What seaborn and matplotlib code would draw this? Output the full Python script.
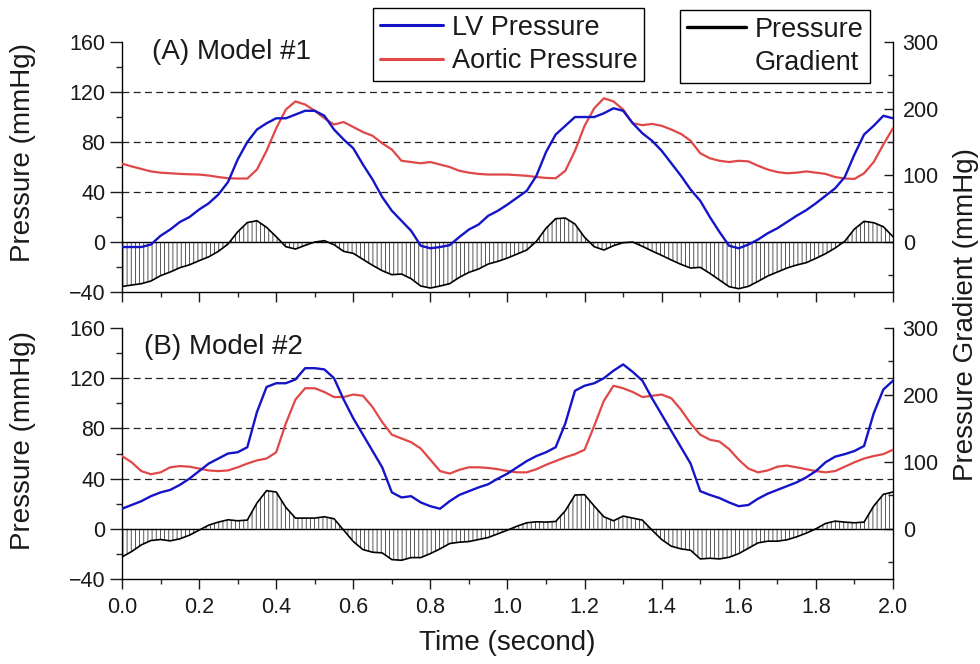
import numpy as np
import matplotlib
matplotlib.use("Agg")
import matplotlib.pyplot as plt
from matplotlib.lines import Line2D
from matplotlib.ticker import MultipleLocator
import seaborn as sns

# ---------------------------------------------------------------- data
# sample times (s), 0.025 s apart
time_s = np.linspace(0.0, 2.0, 81)

# Model #1 (mmHg)
lv_model1 = [
    -4, -4, -4, -2, 5, 10, 16, 20,
    26, 31, 38, 48, 66, 80, 90, 95,
    99, 99, 102, 105, 105, 101, 90, 82,
    75, 62, 50, 36, 25, 17, 9, -3,
    -5, -4, -2.5, 4, 10, 14, 21, 25,
    30, 35.5, 41, 53, 72, 86, 93, 100,
    100, 100, 103, 107, 105, 95, 87, 81,
    73, 63, 53, 42, 33, 20, 8, -3,
    -5, -2, 2, 7, 11, 16, 21, 25.5,
    31, 37, 43, 52, 70, 86, 93, 101,
    99,
]
aortic_model1 = [
    62.7, 60.5, 58.5, 56.5, 55.5, 55, 54.5, 54.2,
    54, 53.2, 52, 51, 50.8, 50.8, 58, 73,
    91, 106, 112.5, 110, 105, 99, 94, 96,
    92, 88, 85, 79, 74, 65, 64, 63,
    64, 62, 60, 57, 55.5, 54.5, 54, 54,
    54, 53.5, 53, 52, 51.3, 51, 57, 73,
    93, 107, 115, 112.5, 106, 95, 93.5, 94.5,
    93, 90, 86.5, 81, 71, 67, 65, 64,
    65, 64.5, 61, 58, 56, 55, 55.5, 56.5,
    55.5, 54.5, 52, 50.8, 50.5, 55, 64, 78,
    91,
]

# Model #2 (mmHg)
lv_model2 = [
    16, 19, 22, 26, 29, 31, 35, 40,
    46, 52, 56, 60, 61, 65, 93, 113,
    116, 116, 119, 128, 128, 127, 120, 103,
    88, 75, 62, 49, 29, 25, 26, 21,
    18, 16, 22, 27, 30, 33, 35.5, 40,
    44, 49, 54, 58, 61, 65, 84, 110,
    114, 116, 120, 126, 131, 125, 118, 104,
    91, 78, 65, 52, 30, 27, 24.5, 21,
    18, 19, 24, 28, 31, 34, 37, 41,
    46, 53, 57.5, 59.5, 62, 66, 92, 111,
    118,
]
aortic_model2 = [
    58, 53, 46, 43.5, 45, 49, 50, 49.5,
    48, 46.5, 46, 46.5, 49, 52, 54.5, 56,
    61, 84, 103, 112, 112, 109, 105, 105,
    107, 106, 97, 85, 75, 72, 69, 64,
    55, 46, 44, 47, 49, 49, 48.5, 47.5,
    46, 45, 45, 47.5, 51, 54, 57, 59.5,
    63, 82, 102, 114, 112, 109, 105, 106,
    107, 104, 95, 84, 75, 71, 69.5, 63.5,
    55, 48, 45, 46.5, 49.5, 50.4, 49, 47.5,
    46, 45, 46, 49.5, 53, 56, 58, 59.5,
    63,
]

panel_titles = ["(A) Model #1", "(B) Model #2"]
pressure_labels = ["LV Pressure", "Aortic Pressure"]
gradient_label_lines = ["Pressure", "Gradient"]
pressure_ticks = [-40, 0, 40, 80, 120, 160]
gradient_ticks = [0, 100, 200, 300]
time_ticks = [0.0, 0.2, 0.4, 0.6, 0.8, 1.0, 1.2, 1.4, 1.6, 1.8, 2.0]

# ---------------------------------------------------------------- style
sns.set_theme(style="ticks")
plt.rcParams["font.family"] = ["Liberation Sans", "DejaVu Sans"]
plt.rcParams["hatch.linewidth"] = 0.6
plt.rcParams["hatch.color"] = "#3a3a3a"

BLUE = "#1414c8"
RED = "#e04848"
INK = "#1a1a1a"
TICK_FS = 15.5
LABEL_FS = 20

fig = plt.figure(figsize=(9.8, 6.64), dpi=100)
fig.patch.set_facecolor("white")
ax_a = fig.add_axes([0.1245, 0.5602, 0.7867, 0.3765])
ax_b = fig.add_axes([0.1245, 0.1280, 0.7867, 0.3780])


def draw_panel(ax, lv, aortic, title, title_xy, ylabel_y, bottom_labels):
    lv = np.asarray(lv, dtype=float)
    aortic = np.asarray(aortic, dtype=float)
    gradient = lv - aortic

    ax2 = ax.twinx()
    ax.set_zorder(ax2.get_zorder() + 1)
    ax.patch.set_visible(False)

    # pressure gradient on the right-hand scale, hatched down to zero
    ax2.fill_between(time_s, gradient, 0, interpolate=True,
                     facecolor="none", edgecolor="#3a3a3a",
                     hatch="||||", linewidth=0)
    sns.lineplot(x=time_s, y=gradient, ax=ax2, color="black",
                 linewidth=1.2, legend=False, errorbar=None)

    # reference lines
    for yv in (40, 80, 120):
        ax.axhline(yv, color="#222222", linewidth=0.9,
                   linestyle=(0, (5.5, 3.5)), zorder=1)
    ax.axhline(0, color="black", linewidth=1.0, zorder=1)

    sns.lineplot(x=time_s, y=aortic, ax=ax, color=RED, linewidth=1.6,
                 legend=False, errorbar=None, zorder=3)
    sns.lineplot(x=time_s, y=lv, ax=ax, color=BLUE, linewidth=1.7,
                 legend=False, errorbar=None, zorder=4)

    ax.set_xlim(0, 2.0)
    ax.set_ylim(-40, 160)
    ax2.set_ylim(-75, 300)

    ax.set_yticks(pressure_ticks)
    ax.yaxis.set_minor_locator(MultipleLocator(20))
    ax.set_xticks(time_ticks)
    ax.xaxis.set_minor_locator(MultipleLocator(0.1))
    ax2.set_yticks(gradient_ticks)
    ax2.yaxis.set_minor_locator(MultipleLocator(50))

    for sp in ("top", "right"):
        ax.spines[sp].set_visible(False)
    for sp in ("left", "bottom"):
        ax.spines[sp].set_linewidth(1.0)
        ax.spines[sp].set_color("black")
    for sp in ("top", "left", "bottom"):
        ax2.spines[sp].set_visible(False)
    ax2.spines["right"].set_linewidth(1.0)
    ax2.spines["right"].set_color("black")

    ax.tick_params(axis="y", which="major", direction="out", length=8.6,
                   width=1.0, pad=3.5, labelsize=TICK_FS, colors=INK,
                   right=False)
    ax.tick_params(axis="y", which="minor", direction="out", length=4.3,
                   width=1.0, right=False)
    ax.tick_params(axis="x", which="major", direction="out", length=7.2,
                   width=1.0, pad=5.5, labelsize=TICK_FS, colors=INK,
                   labelbottom=bottom_labels, top=False)
    ax.tick_params(axis="x", which="minor", direction="out", length=3.6,
                   width=1.0, top=False)
    ax2.tick_params(axis="y", which="major", direction="in", length=6.5,
                    width=1.0, pad=7, labelsize=TICK_FS, colors=INK)
    ax2.tick_params(axis="y", which="minor", direction="in", length=3.3,
                    width=1.0)
    ax.set_xticklabels([f"{v:.1f}" for v in time_ticks])

    ax.set_ylabel("Pressure (mmHg)", fontsize=LABEL_FS, color=INK)
    ax.yaxis.set_label_coords(-0.112, ylabel_y)
    ax2.set_ylabel("")
    ax.set_xlabel("")

    ax.text(title_xy[0], title_xy[1], title, transform=ax.transAxes,
            fontsize=LABEL_FS, color=INK, ha="left", va="baseline")
    return ax2


draw_panel(ax_a, lv_model1, aortic_model1, panel_titles[0],
           (0.039, 0.932), 0.56, False)
draw_panel(ax_b, lv_model2, aortic_model2, panel_titles[1],
           (0.029, 0.896), 0.552, True)

ax_b.set_xlabel("Time (second)", fontsize=LABEL_FS, color=INK)
ax_b.xaxis.set_label_coords(0.5, -0.205)

fig.text(0.9857, 0.527, "Pressure Gradient (mmHg)", rotation=90,
         ha="center", va="center", fontsize=LABEL_FS, color=INK)

# legends
legend_kw = dict(loc="upper left", borderaxespad=0, frameon=True,
                 fancybox=False, framealpha=1, edgecolor="black",
                 fontsize=LABEL_FS - 0.5, handletextpad=0.3,
                 borderpad=0.25, labelspacing=0.28)

pressure_handles = [Line2D([], [], color=BLUE, linewidth=2.2),
                    Line2D([], [], color=RED, linewidth=2.2)]
leg1 = fig.legend(pressure_handles, pressure_labels,
                  bbox_to_anchor=(0.3806, 0.988), handlelength=2.35,
                  **legend_kw)
leg1.get_frame().set_linewidth(1.0)

# the gradient key: line beside the first word, second word underneath
grad_handles = [Line2D([], [], color="black", linewidth=2.4),
                Line2D([], [], color="none", linewidth=0)]
leg2 = fig.legend(grad_handles, gradient_label_lines,
                  bbox_to_anchor=(0.694, 0.985), handlelength=2.2,
                  **legend_kw)
leg2.get_frame().set_linewidth(1.0)
for txt in leg1.get_texts() + leg2.get_texts():
    txt.set_color(INK)

fig.savefig("out.png", dpi=100, facecolor="white")
